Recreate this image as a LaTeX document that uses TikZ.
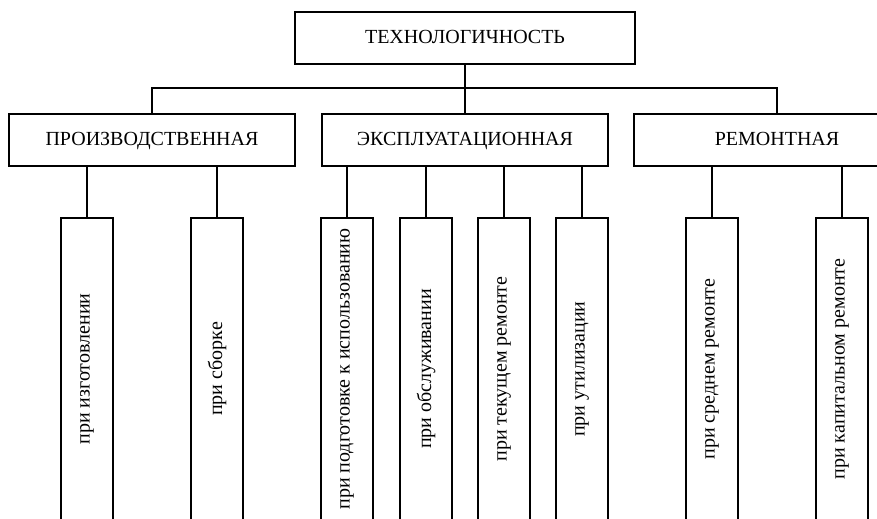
\documentclass[tikz,border=0pt]{standalone}
\usepackage{fontspec}
\setmainfont{Liberation Serif}
\begin{document}
\begin{tikzpicture}[x=0.75pt,y=-0.75pt,
  box/.style={draw, line width=1.5pt, inner sep=0pt,
    font=\fontsize{15}{18}\selectfont, text height=10.5pt, text depth=3pt},
  head/.style={box, minimum width=255pt, minimum height=39pt},
  branch/.style={box, minimum width=214.5pt, minimum height=39pt},
  leaf/.style={draw, line width=1.5pt, inner sep=0pt,
    font=\fontsize{15}{18}\selectfont, minimum width=39pt, minimum height=226.5pt},
  link/.style={line width=1.5pt}]
\useasboundingbox (0,0) rectangle (877,518);
\clip (0,0) rectangle (877,518);

% root and the three kinds
\node[head]   (top)  at (465,38)  {ТЕХНОЛОГИЧНОСТЬ};
\node[branch] (prod) at (152,140) {ПРОИЗВОДСТВЕННАЯ};
\node[branch] (expl) at (465,140) {ЭКСПЛУАТАЦИОННАЯ};
\node[branch] (rem)  at (777,140) {РЕМОНТНАЯ};

% leaf boxes with rotated captions
\node[leaf] (l1) at (87,369)  {\rotatebox{90}{при изготовлении}};
\node[leaf] (l2) at (217,369) {\rotatebox{90}{при сборке}};
\node[leaf] (l3) at (347,369) {\rotatebox{90}{при подготовке к использованию}};
\node[leaf] (l4) at (426,369) {\rotatebox{90}{при обслуживании}};
\node[leaf] (l5) at (504,369) {\rotatebox{90}{при текущем ремонте}};
\node[leaf] (l6) at (582,369) {\rotatebox{90}{при утилизации}};
\node[leaf] (l7) at (712,369) {\rotatebox{90}{при среднем ремонте}};
\node[leaf] (l8) at (842,369) {\rotatebox{90}{при капитальном ремонте}};

% bus from the root
\draw[link] (top.south) -- (expl.north);
\draw[link] (prod.north) -- ++(0,-25) -| (rem.north);

% links down to the leaves
\foreach \b/\l in {prod/l1, prod/l2, expl/l3, expl/l4, expl/l5, expl/l6, rem/l7, rem/l8}
  \draw[link] (\b.south -| \l.north) -- (\l.north);
\end{tikzpicture}
\end{document}
